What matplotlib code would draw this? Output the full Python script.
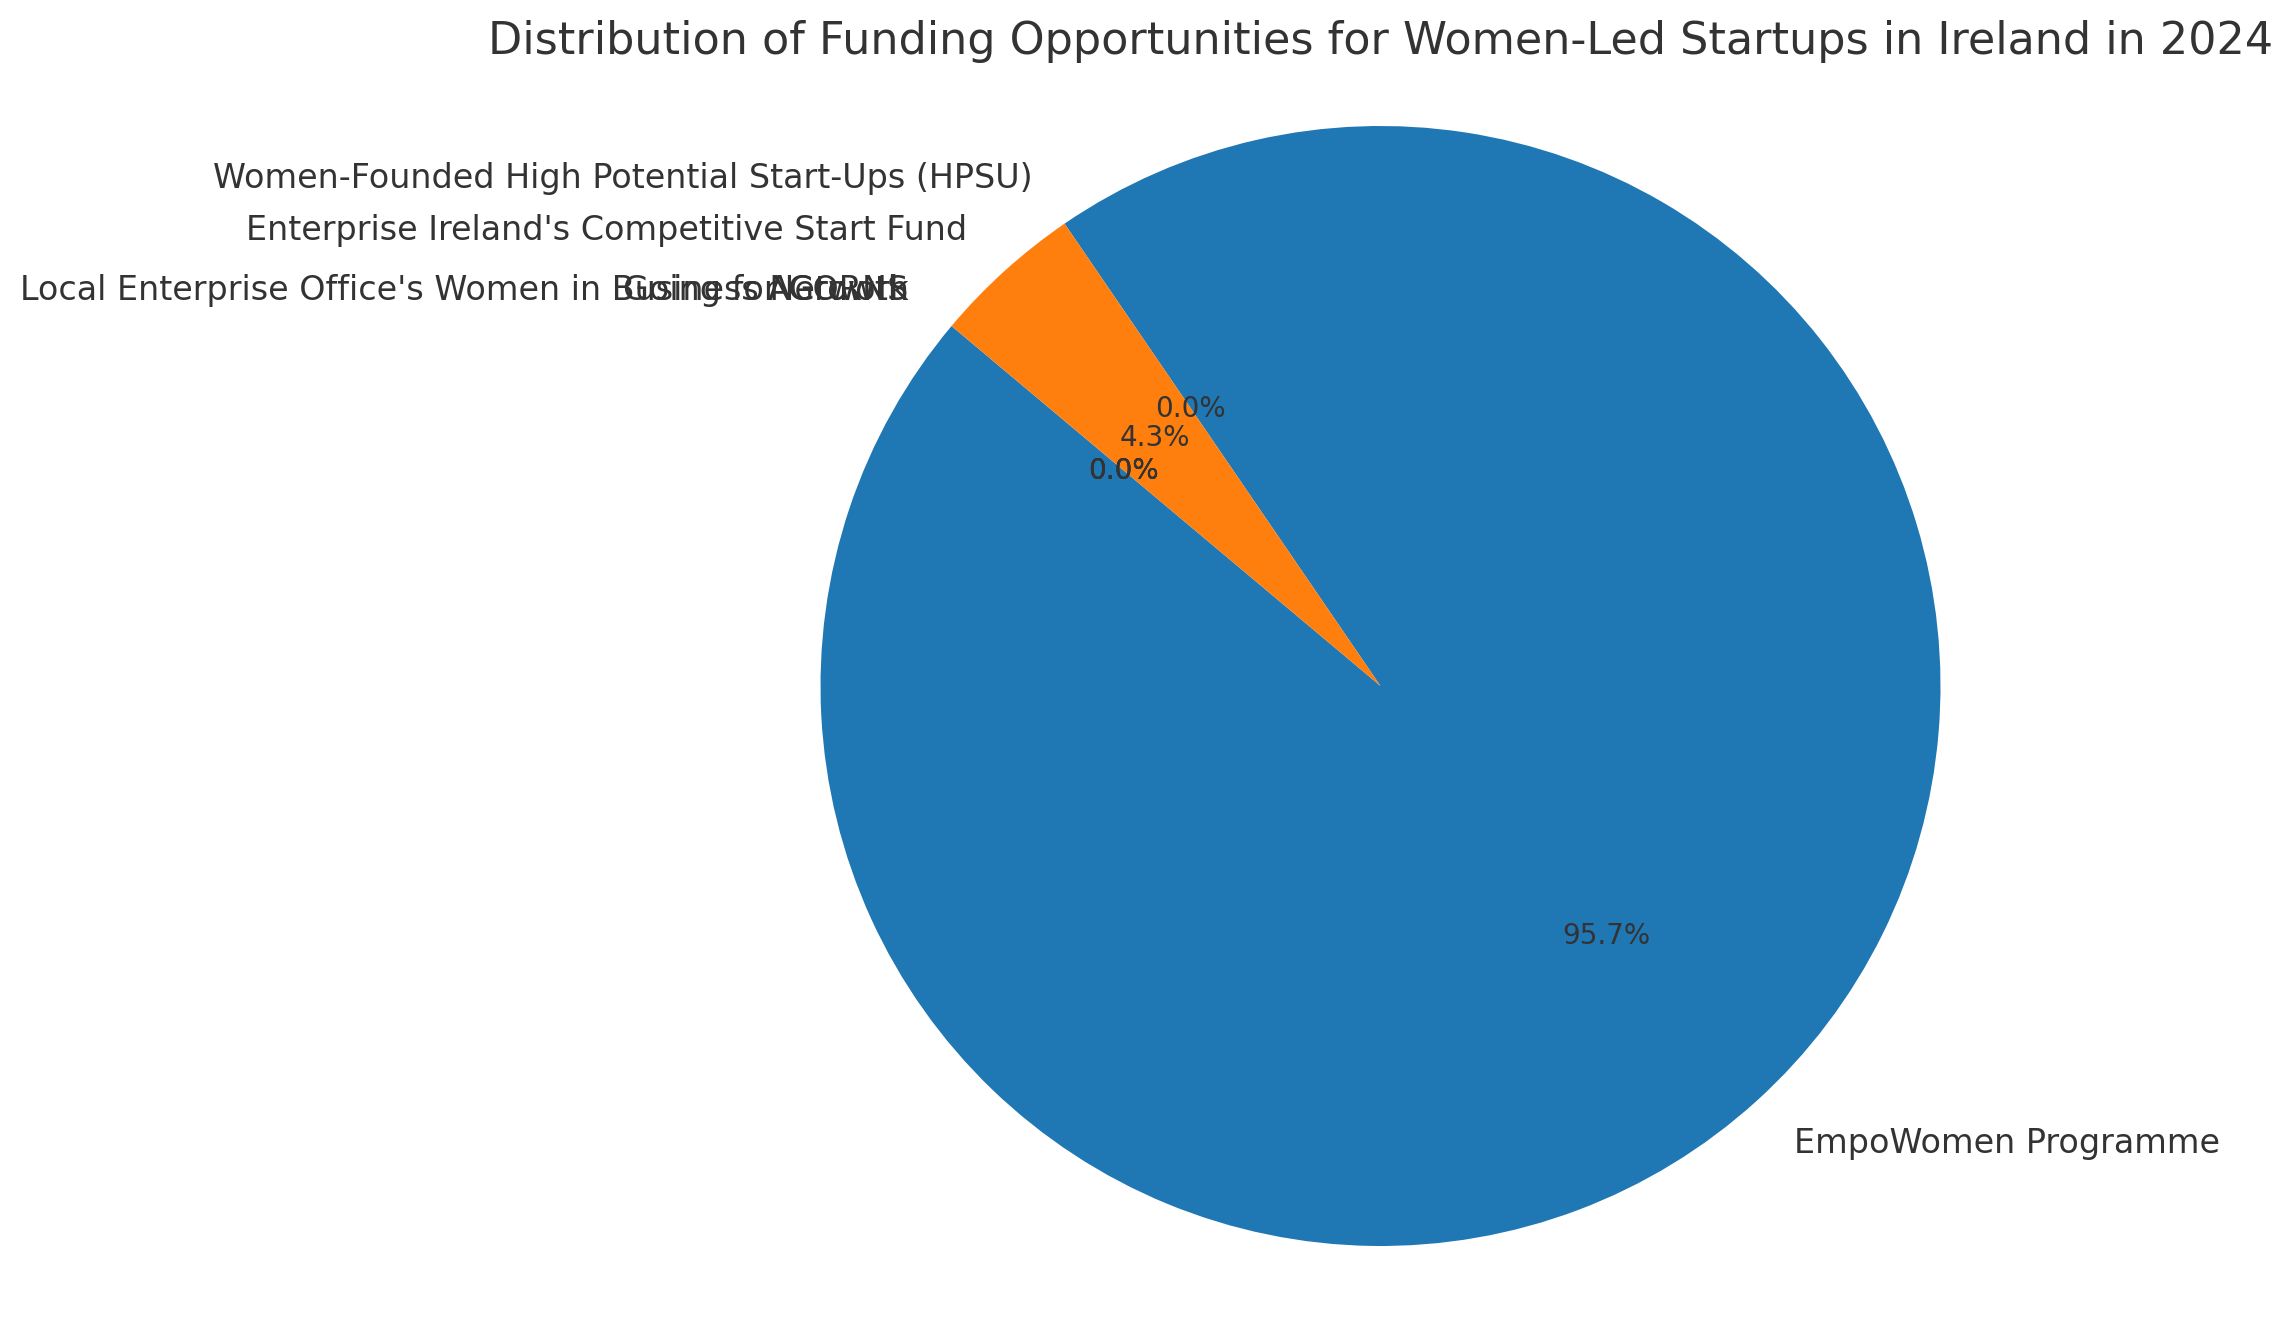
import matplotlib
matplotlib.use("Agg")
import matplotlib.pyplot as plt

programmes = [
    "EmpoWomen Programme",
    "Women-Founded High Potential Start-Ups (HPSU)",
    "Enterprise Ireland's Competitive Start Fund",
    "Local Enterprise Office's Women in Business Network",
    "Going for Growth",
    "ACORNS",
]
funding = [1100000, 0, 50000, 0, 0, 0]
colors = ["#1f77b4", "#2ca02c", "#ff7f0e", "#d62728", "#9467bd", "#8c564b"]

plt.style.use("seaborn-v0_8-whitegrid")
plt.rcParams["font.family"] = ["DejaVu Sans"]
plt.rcParams["text.color"] = "#333333"

fig, ax = plt.subplots(figsize=(10, 8), dpi=200)
wedges, texts, autotexts = ax.pie(funding, labels=programmes, autopct="%1.1f%%",
                                  startangle=140, colors=colors,
                                  textprops={"fontsize": 12, "color": "#333333"})
for t in autotexts:
    t.set_fontsize(10)
ax.set_title("Distribution of Funding Opportunities for Women-Led Startups in Ireland in 2024",
             fontsize=16, color="#333333")
ax.axis("equal")
fig.savefig("out.png", dpi=200, bbox_inches="tight")
